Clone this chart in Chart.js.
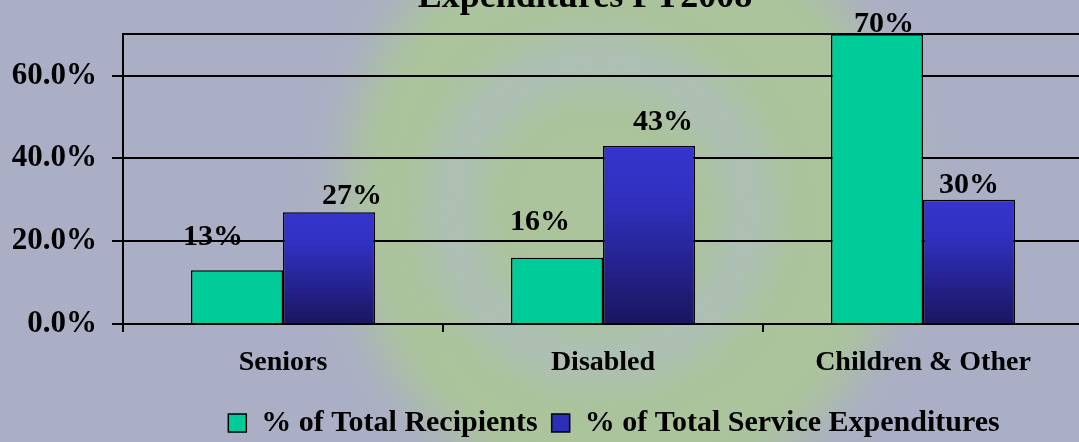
<!DOCTYPE html>
<html>
<head>
<meta charset="utf-8">
<script src="https://cdn.jsdelivr.net/npm/chart.js@4.4.1/dist/chart.umd.min.js"></script>
<style>
  html, body { margin: 0; padding: 0; overflow: hidden; background: #abafc5; }
  canvas { display: block; }
</style>
</head>
<body>
<canvas id="graficoGastos" width="1083" height="442"></canvas>
<script>
const categories = ["Seniors", "Disabled", "Children & Other"];
const seriesNames = ["% of Total Recipients", "% of Total Service Expenditures"];
const recipients = [13, 16, 70];
const expenditures = [27, 43, 30];
const yTicks = [0, 20, 40, 60];
const yMax = 70;

Chart.defaults.font.family = "'Liberation Serif', 'Times New Roman', serif";
Chart.defaults.font.weight = "bold";
Chart.defaults.color = "#000";

// gradiente azul de cada barra (claro em cima, escuro embaixo)
function azulGradiente(ctx) {
  const chart = ctx.chart;
  const y = chart.scales && chart.scales.y;
  if (ctx.type !== "data" || !chart.chartArea || !y) return "#2e2eb8";
  const top = y.getPixelForValue(ctx.raw);
  const base = y.getPixelForValue(0);
  const g = chart.ctx.createLinearGradient(0, top, 0, base);
  g.addColorStop(0, "#3535cd");
  g.addColorStop(0.3, "#3030c0");
  g.addColorStop(1, "#1a1660");
  return g;
}

// fundo: cinza azulado com o "swirl" verde borrado
const fundo = {
  id: "fundo",
  beforeDraw(chart) {
    const { ctx, width, height } = chart;
    ctx.save();
    ctx.fillStyle = "#abafc5";
    ctx.fillRect(0, 0, width, height);
    ctx.filter = "blur(22px)";
    ctx.fillStyle = "#abc49b";
    ctx.beginPath();
    ctx.ellipse(625, 200, 280, 300, 0, 0, Math.PI * 2);
    ctx.fill();
    ctx.strokeStyle = "rgba(176,186,210,0.7)";
    ctx.lineWidth = 38;
    ctx.beginPath();
    ctx.arc(600, 210, 150, 0, Math.PI * 2);
    ctx.stroke();
    ctx.restore();
  },
};

// desloca titulo e legenda para a posicao do original
const deslocar = {
  id: "deslocar",
  afterLayout(chart, args, opts) {
    const mover = (box, cx) => {
      if (!box) return;
      const dx = cx - (box.left + box.right) / 2;
      box.left += dx;
      box.right += dx;
    };
    mover(chart.titleBlock, opts.tituloX);
    mover(chart.legend, opts.legendaX);
  },
};

// rotulos de valor acima das barras
const rotulos = {
  id: "rotulos",
  afterDatasetsDraw(chart, args, opts) {
    const ctx = chart.ctx;
    ctx.save();
    ctx.font = "bold 30px 'Liberation Serif'";
    ctx.fillStyle = "#000";
    ctx.textAlign = "center";
    ctx.textBaseline = "alphabetic";
    chart.data.datasets.forEach((ds, di) => {
      const meta = chart.getDatasetMeta(di);
      meta.data.forEach((bar, i) => {
        const off = opts.offsets[di][i];
        ctx.fillText(ds.data[i] + "%", bar.x + off[0], bar.y + off[1]);
      });
    });
    ctx.restore();
  },
};

const graficoGastos = document.getElementById("graficoGastos");
new Chart(graficoGastos, {
  type: "bar",
  data: {
    labels: categories,
    datasets: [
      {
        label: seriesNames[0],
        data: recipients,
        backgroundColor: "#00cc99",
        borderColor: "#000",
        borderWidth: 1.5,
        categoryPercentage: 0.575,
        barPercentage: 1,
      },
      {
        label: seriesNames[1],
        data: expenditures,
        backgroundColor: azulGradiente,
        borderColor: "#000",
        borderWidth: 1.5,
        categoryPercentage: 0.575,
        barPercentage: 1,
      },
    ],
  },
  options: {
    responsive: false,
    animation: false,
    layout: { padding: { left: 0, right: 0, top: 0, bottom: -6 } },
    scales: {
      x: {
        afterFit(scale) { scale.height = 70; },
        grid: {
          display: true,
          drawOnChartArea: false,
          drawTicks: true,
          tickLength: 8,
          color: "#000",
          lineWidth: 2,
        },
        border: { display: true, color: "#000", width: 2 },
        ticks: { padding: 14, font: { size: 28, weight: "bold" }, color: "#000" },
      },
      y: {
        min: 0,
        max: yMax,
        afterFit(scale) { scale.width = 123; },
        afterBuildTicks(scale) {
          scale.ticks = yTicks.concat([yMax]).map((v) => ({ value: v }));
        },
        grid: {
          color: "#000",
          lineWidth: 2,
          tickLength: 11,
          tickColor: (c) => (c.tick && yTicks.includes(c.tick.value) ? "#000" : "rgba(0,0,0,0)"),
        },
        border: { display: true, color: "#000", width: 2 },
        ticks: {
          padding: 15,
          font: { size: 31, weight: "bold" },
          color: "#000",
          callback: (v) => (yTicks.includes(v) ? v.toFixed(1) + "%" : ""),
        },
      },
    },
    plugins: {
      title: {
        display: true,
        text: "Expenditures FY2008",
        font: { size: 36, weight: "bold" },
        color: "#000",
        padding: { top: -24, bottom: 15 },
      },
      legend: {
        position: "bottom",
        labels: {
          boxWidth: 18,
          boxHeight: 18,
          padding: 14,
          font: { size: 30, weight: "bold" },
          color: "#000",
          generateLabels(chart) {
            const itens = Chart.defaults.plugins.legend.labels.generateLabels(chart);
            itens[1].fillStyle = "#2e2eb8";
            return itens;
          },
        },
      },
      tooltip: { enabled: false },
      deslocar: { tituloX: 585, legendaX: 614 },
      rotulos: {
        offsets: [
          [[-24, -25], [-17, -28], [7, -2]],
          [[23, -8], [14, -16], [0, -7]],
        ],
      },
    },
  },
  plugins: [fundo, deslocar, rotulos],
});
</script>
</body>
</html>
